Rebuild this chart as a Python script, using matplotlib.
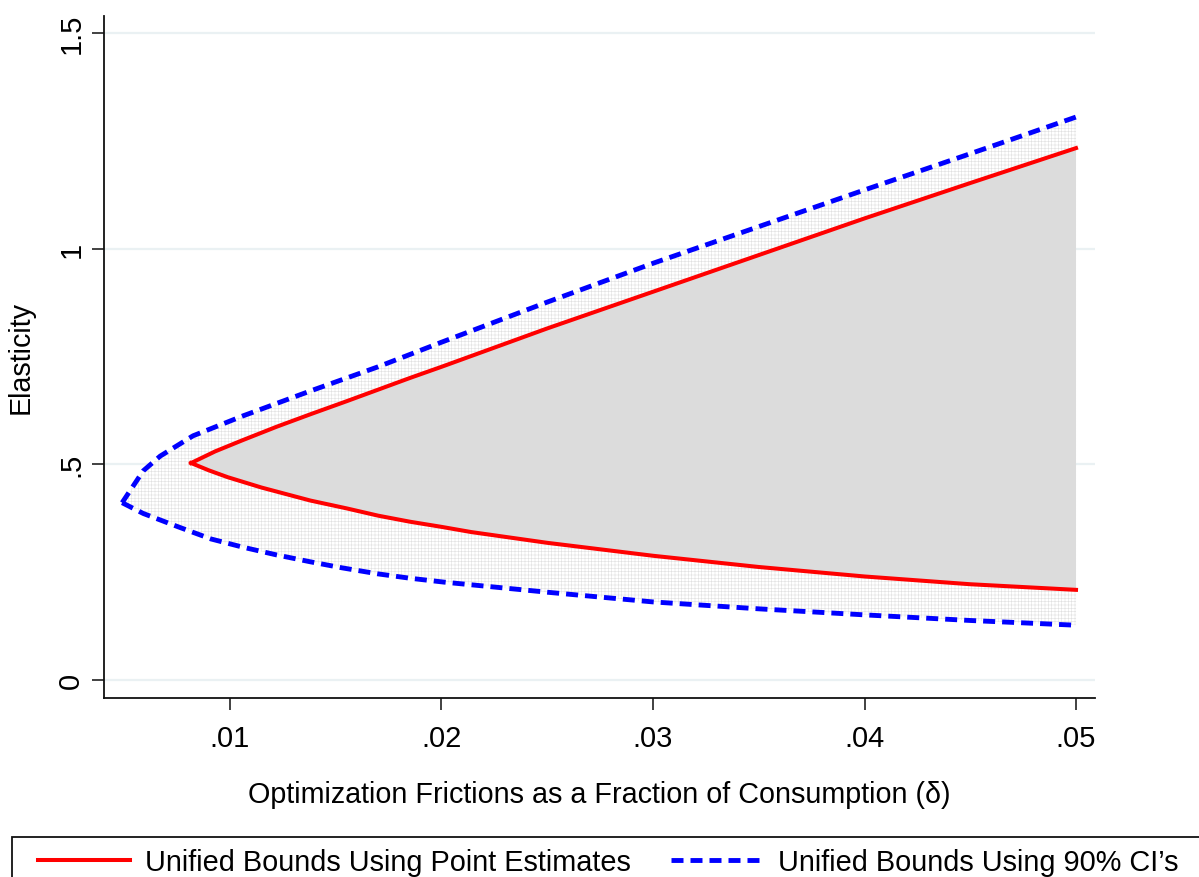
import matplotlib
matplotlib.use("Agg")
import matplotlib.pyplot as plt
from matplotlib.lines import Line2D
from matplotlib.patches import Rectangle

plt.rcParams['font.family'] = ['Liberation Sans', 'DejaVu Sans']
plt.rcParams['hatch.linewidth'] = 0.4

# ---- data ----
red_upper_x = [0.00816, 0.0093, 0.0106, 0.0122, 0.0138, 0.0155, 0.017, 0.0185, 0.020, 0.025, 0.030,
               0.035, 0.040, 0.045, 0.050]
red_upper_y = [0.503, 0.530, 0.556, 0.587, 0.616, 0.646, 0.673, 0.700, 0.726, 0.815, 0.900,
               0.985, 1.070, 1.152, 1.233]
red_lower_x = [0.00816, 0.009, 0.0099, 0.0115, 0.0138, 0.0155, 0.017, 0.0185, 0.020, 0.0214, 0.025,
               0.030, 0.035, 0.040, 0.045, 0.050]
red_lower_y = [0.503, 0.486, 0.470, 0.446, 0.416, 0.398, 0.381, 0.367, 0.355, 0.343, 0.318,
               0.288, 0.262, 0.240, 0.222, 0.209]

blue_upper_x = [0.0049, 0.0059, 0.0067, 0.00825, 0.0106, 0.0138, 0.017, 0.020, 0.025, 0.030, 0.035, 0.040, 0.045, 0.050]
blue_upper_y = [0.411, 0.485, 0.519, 0.566, 0.612, 0.670, 0.726, 0.783, 0.876, 0.966, 1.051, 1.136, 1.220, 1.305]
blue_lower_x = [0.0049, 0.0059, 0.0075, 0.0091, 0.0106, 0.0122, 0.0138, 0.0153, 0.0170, 0.0185, 0.0201,
                0.025, 0.030, 0.035, 0.040, 0.045, 0.050]
blue_lower_y = [0.411, 0.386, 0.356, 0.327, 0.308, 0.290, 0.274, 0.260, 0.246, 0.236, 0.227,
                0.2035, 0.181, 0.165, 0.151, 0.138, 0.127]

x_ticks = [0.01, 0.02, 0.03, 0.04, 0.05]
x_tick_labels = ['.01', '.02', '.03', '.04', '.05']
y_ticks = [0, 0.5, 1, 1.5]
y_tick_labels = ['0', '.5', '1', '1.5']

x_label = 'Optimization Frictions as a Fraction of Consumption (\u03b4)'
y_label = 'Elasticity'
legend_labels = ['Unified Bounds Using Point Estimates', 'Unified Bounds Using 90% CI\u2019s']

RED = '#FF0000'
BLUE = '#0000FF'

W, H = 1199, 878
fig = plt.figure(figsize=(W / 100, H / 100), dpi=100)
ax = fig.add_axes([104 / W, 1 - 699 / H, (1095 - 104) / W, (699 - 17) / H])

# blue CI region (hatched grid)
bx = blue_upper_x + blue_lower_x[::-1]
by = blue_upper_y + blue_lower_y[::-1]
ax.fill(bx, by, facecolor='white', edgecolor='#E0E0E0', linewidth=0, hatch='+++++', zorder=2)

# red region (solid gray)
rx = red_upper_x + red_lower_x[::-1]
ry = red_upper_y + red_lower_y[::-1]
ax.fill(rx, ry, facecolor='#DCDCDC', edgecolor='none', zorder=3)

lw_red = 2.9
lw_blue = 3.5
dash = (12 / 1.389 / lw_blue, 7 / 1.389 / lw_blue)

ax.plot(blue_upper_x, blue_upper_y, color=BLUE, lw=lw_blue, dashes=dash, zorder=4)
ax.plot(blue_lower_x, blue_lower_y, color=BLUE, lw=lw_blue, dashes=dash, zorder=4)
ax.plot(red_upper_x, red_upper_y, color=RED, lw=lw_red, zorder=5)
ax.plot(red_lower_x, red_lower_y, color=RED, lw=lw_red, zorder=5)

ax.set_xlim(0.004043, 0.050898)
ax.set_ylim(-0.0417, 1.5392)

ax.set_xticks(x_ticks)
ax.set_xticklabels(x_tick_labels)
ax.set_yticks(y_ticks)
ax.set_yticklabels(y_tick_labels, rotation=90, va='center')

ax.set_axisbelow(True)
ax.grid(axis='y', color='#EAF1F3', lw=1.6, zorder=0)
ax.grid(axis='x', visible=False)

for s in ['top', 'right']:
    ax.spines[s].set_visible(False)
for s in ['left', 'bottom']:
    ax.spines[s].set_color('#111111')
    ax.spines[s].set_linewidth(1.3)

ax.tick_params(axis='both', direction='out', length=8.5, width=1.3, color='#333333', labelsize=21)
ax.tick_params(axis='x', pad=10.5)
ax.tick_params(axis='y', pad=5)

ax.set_xlabel(x_label, fontsize=20.7, labelpad=20)
ax.set_ylabel(y_label, fontsize=20.7, labelpad=16)

# legend box (cut off at figure bottom/right as in reference)
fig.patches.append(Rectangle((12 / W, -0.2), 1.2, 0.2 + (1 - 838 / H), transform=fig.transFigure,
                             facecolor='white', edgecolor='#111111', lw=1.3, zorder=0))
handles = [Line2D([], [], color=RED, lw=lw_red),
           Line2D([], [], color=BLUE, lw=lw_blue, dashes=dash)]
fs_leg = 20.8
em = fs_leg * 1.389
fig.legend(handles, legend_labels, loc='center left', bbox_to_anchor=(38 / W, 1 - 863 / H),
           ncol=2, frameon=False, fontsize=fs_leg, borderpad=0, borderaxespad=0,
           handlelength=92 / em, handletextpad=15 / em, columnspacing=40 / em)

fig.savefig('out.png', dpi=100)
